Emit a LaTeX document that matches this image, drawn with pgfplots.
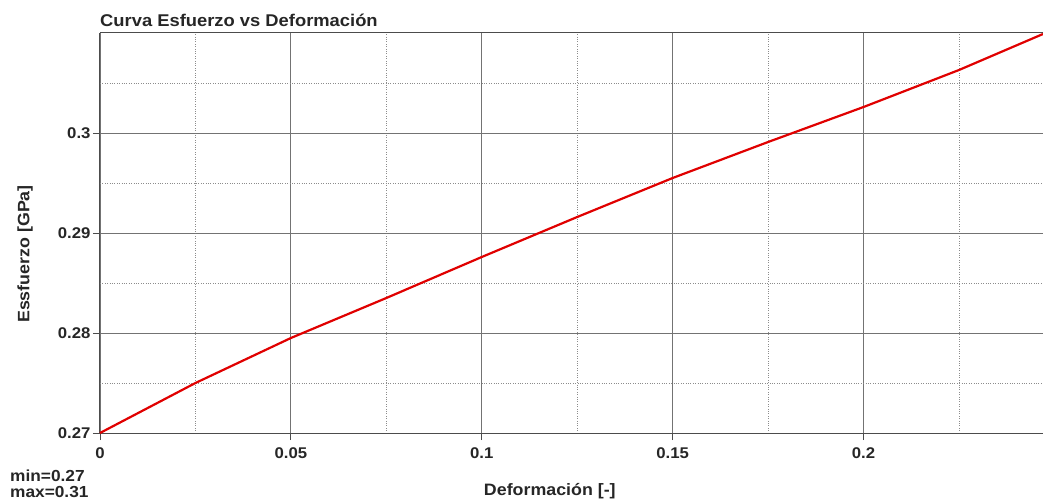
\documentclass[border=0pt]{standalone}
\usepackage{pgfplots}
\pgfplotsset{compat=1.18}
\usepackage{fontspec}
\setmainfont{Liberation Sans}[FakeStretch=1.08]
\begin{document}
\begin{tikzpicture}[x=1pt,y=1pt]
\useasboundingbox (-100,-67) rectangle (943,433);
\begin{axis}[
  at={(0,0)}, anchor=south west,
  scale only axis, width=943pt, height=400pt,
  xmin=0, xmax=0.247, ymin=0.27, ymax=0.31,
  xtick={0,0.05,0.1,0.15,0.2},
  xticklabels={0,0.05,0.1,0.15,0.2},
  ytick={0.27,0.28,0.29,0.3},
  yticklabels={0.27,0.28,0.29,0.3},
  minor xtick={0.025,0.075,0.125,0.175,0.225},
  minor ytick={0.275,0.285,0.295,0.305},
  grid=both,
  major grid style={draw=black!55, line width=0.8pt},
  minor grid style={draw=black!45, dotted, line width=0.7pt},
  separate axis lines,
  axis x line*=box, axis y line*=left,
  axis line style={draw=black!70, line width=1pt, -},
  tick style={draw=black!70, line width=0.8pt},
  major tick length=7pt, minor tick length=0pt,
  tick align=outside,
  xtick pos=bottom, ytick pos=left,
  tick label style={font=\bfseries\fontsize{15.5}{15.5}\selectfont, text=black!85},
  /pgf/number format/assume math mode=true,
  xticklabel style={yshift=-4pt},
  yticklabel style={xshift=1pt},
  xlabel={\textbf{Deformación [-]}},
  ylabel={\textbf{Essfuerzo [GPa]}},
  label style={font=\bfseries\fontsize{16.5}{16.5}\selectfont, text=black!85},
  xlabel style={at={(0.477,0)}, anchor=base, yshift=-62pt},
  ylabel style={at={(-0.0795,0.4475)}, anchor=center},
  clip=false,
]
\addplot[color=red!88!black, line width=2.2pt] coordinates {
(0,0.27) (0.025,0.275) (0.05,0.2795) (0.075,0.2835) (0.1,0.2876)
(0.125,0.2916) (0.15,0.2955) (0.175,0.2991) (0.2,0.3026)
(0.225,0.3063) (0.247,0.3099)
};
\node[anchor=base west, font=\bfseries\fontsize{17}{17}\selectfont, text=black!85, inner sep=0pt]
  at (rel axis cs:0,1) [yshift=6pt] {Curva Esfuerzo vs Deformación};
\node[anchor=base west, font=\bfseries\fontsize{16}{16}\selectfont, text=black!85, inner sep=0pt]
  at (rel axis cs:0,0) [xshift=-90pt, yshift=-48pt] {min=0.27};
\node[anchor=base west, font=\bfseries\fontsize{16}{16}\selectfont, text=black!85, inner sep=0pt]
  at (rel axis cs:0,0) [xshift=-90pt, yshift=-64pt] {max=0.31};
\end{axis}
\end{tikzpicture}
\end{document}
